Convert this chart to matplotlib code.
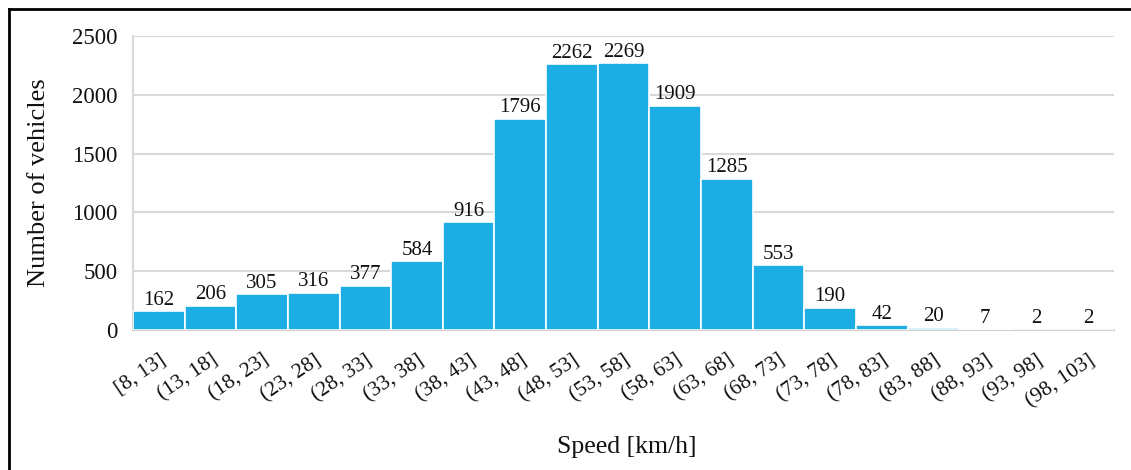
import matplotlib

matplotlib.use('Agg')
import matplotlib.pyplot as plt
from matplotlib.lines import Line2D

# --- 속도 구간별 차량 대수 ---
speed_bins = ['[8, 13]', '(13, 18]', '(18, 23]', '(23, 28]', '(28, 33]',
              '(33, 38]', '(38, 43]', '(43, 48]', '(48, 53]', '(53, 58]',
              '(58, 63]', '(63, 68]', '(68, 73]', '(73, 78]', '(78, 83]',
              '(83, 88]', '(88, 93]', '(93, 98]', '(98, 103]']
vehicle_counts = [162, 206, 305, 316, 377, 584, 916, 1796, 2262, 2269,
                  1909, 1285, 553, 190, 42, 20, 7, 2, 2]
y_ticks = [0, 500, 1000, 1500, 2000, 2500]

plt.rcParams['font.family'] = ['Liberation Serif', 'DejaVu Serif']

fig = plt.figure(figsize=(11.31, 4.70), dpi=100)
ax = fig.add_axes([0.1176, 0.2979, 0.8674, 0.6255])

x = range(len(speed_bins))
bars = ax.bar(x, vehicle_counts, width=1.0, color='#1BADE3',
              edgecolor='white', linewidth=1.2, zorder=3)

# 막대 위에 값 표시
for bar, val in zip(bars, vehicle_counts):
    ax.annotate(f'{val}', (bar.get_x() + bar.get_width() / 2, val),
                xytext=(0, 1), textcoords='offset points',
                ha='center', va='bottom', fontsize=15, color='#111111')

ax.set_xlim(-0.5, len(speed_bins) - 0.5)
ax.set_ylim(0, 2500)
ax.set_yticks(y_ticks)
ax.set_yticklabels([str(t) for t in y_ticks], fontsize=16.5)
ax.set_xticks(list(x))
ax.set_xticklabels(speed_bins, fontsize=15.5, rotation=34,
                   ha='right', va='top', rotation_mode='anchor')
ax.tick_params(axis='both', length=0, colors='#111111')
ax.tick_params(axis='y', pad=11)
ax.tick_params(axis='x', pad=15)

# 가로 격자선과 축선
ax.grid(axis='y', color='#D9D9D9', linewidth=1.5, zorder=0)
for side in ['top', 'right']:
    ax.spines[side].set_visible(False)
ax.spines['left'].set_color('#D9D9D9')
ax.spines['left'].set_linewidth(1.5)
ax.spines['bottom'].set_color('#D0D0D0')
ax.spines['bottom'].set_linewidth(1.5)

ax.set_ylabel('Number of vehicles', fontsize=19, color='#111111', labelpad=14)
ax.set_xlabel('Speed [km/h]', fontsize=18.5, color='#111111', labelpad=8)
ax.yaxis.set_label_coords(-0.0845, 0.5)
ax.xaxis.set_label_coords(0.503, -0.362)

# 바깥 테두리 (위쪽, 왼쪽)
fig.add_artist(Line2D([9 / 1131, 1.0], [1 - 9 / 470, 1 - 9 / 470],
                      transform=fig.transFigure, color='black', linewidth=2))
fig.add_artist(Line2D([9 / 1131, 9 / 1131], [0.0, 1 - 9 / 470],
                      transform=fig.transFigure, color='black', linewidth=2))

plt.savefig('out.png', dpi=100)
plt.close()
